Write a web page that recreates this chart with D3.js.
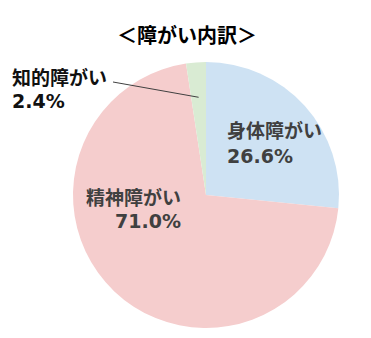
<!DOCTYPE html>
<html><head><meta charset="utf-8">
<script src="https://cdn.jsdelivr.net/npm/d3@7"></script>
<style>
html,body{margin:0;padding:0;background:#fff;}
svg{display:block;}
text{font-family:"DejaVu Sans","Noto Sans CJK JP",sans-serif;font-weight:bold;}
</style></head>
<body>
<svg id="chart" width="371" height="338"></svg>
<script>
const title = "＜障がい内訳＞";
const categories = ["身体障がい", "精神障がい", "知的障がい"];
const values = [26.6, 71.0, 2.4];
const valueLabels = ["26.6%", "71.0%", "2.4%"];
const colors = ["#cee2f3", "#f5cdcd", "#d9ebd3"];

const svg = d3.select("#chart");
const cx = 206, cy = 195, r = 133;

svg.append("text").attr("x", 187).attr("y", 43).attr("text-anchor", "middle")
  .attr("font-size", 20).attr("fill", "#000")
  .style("font-family", '"Noto Sans CJK JP",sans-serif').text(title);

const pie = d3.pie().sort(null).value(d => d)(values);
const arc = d3.arc().innerRadius(0).outerRadius(r);
const g = svg.append("g").attr("transform", `translate(${cx},${cy})`);
g.selectAll("path").data(pie).join("path")
  .attr("d", arc).attr("fill", (d, i) => colors[i]);

// label layout (positions only)
const labelPos = [
  {x: 227, y1: 138, y2: 163, anchor: "start", fill: "#404040"},
  {x: 181, y1: 205, y2: 228, anchor: "end", fill: "#404040"},
  {x: 12, y1: 85, y2: 108, anchor: "start", fill: "#111"}
];
categories.forEach((c, i) => {
  const p = labelPos[i];
  svg.append("text").attr("x", p.x).attr("y", p.y1).attr("text-anchor", p.anchor)
    .attr("font-size", 19).attr("fill", p.fill).text(c);
  svg.append("text").attr("x", p.x).attr("y", p.y2).attr("text-anchor", p.anchor)
    .attr("font-size", 19).attr("fill", p.fill).text(valueLabels[i]);
});

// leader line for small slice
const sm = pie[2];
const mid = (sm.startAngle + sm.endAngle) / 2;
const lr = r - 35;
svg.append("line")
  .attr("x1", 113).attr("y1", 82)
  .attr("x2", cx + Math.sin(mid) * lr).attr("y2", cy - Math.cos(mid) * lr)
  .attr("stroke", "#404040").attr("stroke-width", 1);
</script>
</body></html>
